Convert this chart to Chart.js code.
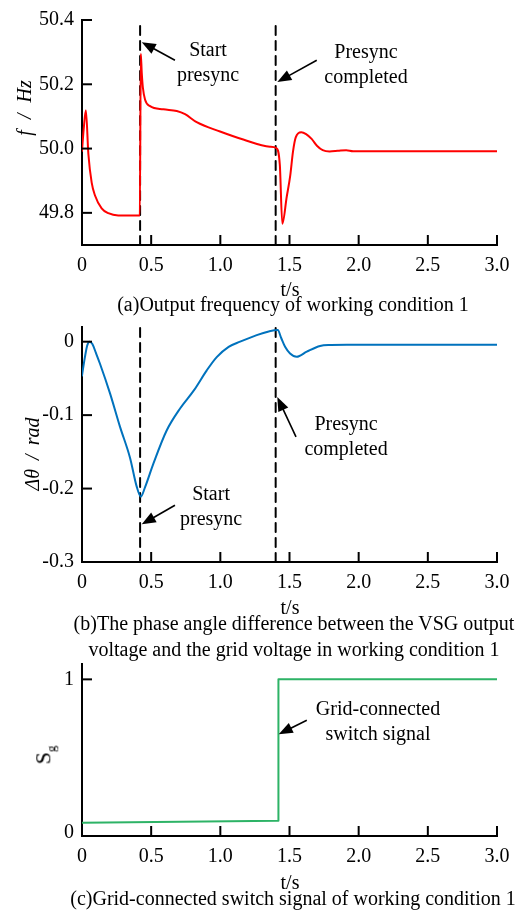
<!DOCTYPE html>
<html>
<head>
<meta charset="utf-8">
<script src="https://cdn.jsdelivr.net/npm/chart.js@4.4.0/dist/chart.umd.min.js"></script>
<style>
  html, body { margin: 0; padding: 0; background: #fff; overflow: hidden; }
  #page { position: relative; width: 526px; height: 910px; font-family: "Liberation Serif", serif; color: #000; }
  canvas { position: absolute; left: 0; }
  .txt { position: absolute; font-size: 20px; line-height: 23px; white-space: nowrap; text-align: center; }
  .ytitle { position: absolute; font-size: 20px; white-space: nowrap; transform: translate(-50%, -50%) rotate(-90deg); }
</style>
</head>
<body>
<div id="page">
  <canvas id="freqChart" width="526" height="300" style="top:0px"></canvas>
  <canvas id="phaseChart" width="526" height="340" style="top:300px"></canvas>
  <canvas id="switchChart" width="526" height="270" style="top:640px"></canvas>

  <div class="ytitle" style="left:24px;top:108px;font-style:italic;word-spacing:6px">f / Hz</div>
  <div class="ytitle" style="left:32px;top:454px;font-style:italic;word-spacing:4px">&Delta;&theta; / rad</div>
  <div class="ytitle" style="left:45px;top:755px;font-size:22px">S<sub style="font-size:13px">g</sub></div>

  <div class="txt" style="left:0;width:580px;top:278px">t/s</div>
  <div class="txt" style="left:0;width:586px;top:293px">(a)Output frequency of working condition 1</div>

  <div class="txt" style="left:0;width:580px;top:596px">t/s</div>
  <div class="txt" style="left:0;width:588px;top:610px;line-height:26px">(b)The phase angle difference between the VSG output<br>voltage and the grid voltage in working condition 1</div>

  <div class="txt" style="left:0;width:580px;top:871px">t/s</div>
  <div class="txt" style="left:0;width:586px;top:887px">(c)Grid-connected switch signal of working condition 1</div>
</div>

<script>
// time axis shared by all three plots
const timeTicks = [0, 0.5, 1.0, 1.5, 2.0, 2.5, 3.0];
const presyncStart = 0.42;
const presyncDone = 1.40;

// (a) output frequency, Hz
const freqTime = [0.000, 0.012, 0.028, 0.046, 0.070, 0.094, 0.142, 0.190, 0.262, 0.418,
  0.425, 0.432, 0.440, 0.456, 0.492, 0.588, 0.685, 0.745, 0.829, 0.998, 1.166, 1.359, 1.403,
  1.430, 1.448, 1.480, 1.505, 1.525, 1.545, 1.585, 1.620, 1.660, 1.700, 1.740, 1.790, 1.850,
  1.910, 1.960, 3.000];
const freqValue = [49.993, 50.060, 50.119, 49.983, 49.894, 49.854, 49.814, 49.799, 49.792, 49.792,
  50.295, 50.235, 50.190, 50.152, 50.132, 50.122, 50.117, 50.107, 50.082, 50.053, 50.028, 50.006, 50.002,
  49.950, 49.766, 49.850, 49.915, 49.990, 50.035, 50.051, 50.045, 50.030, 50.008, 49.995, 49.991, 49.993,
  49.995, 49.992, 49.992];
const freqTicks = [49.8, 50.0, 50.2, 50.4];

// (b) phase angle difference, rad
const phaseTime = [0.000, 0.022, 0.038, 0.055, 0.075, 0.100, 0.130, 0.202, 0.275, 0.347,
  0.395, 0.425, 0.456, 0.516, 0.612, 0.709, 0.810, 0.902, 0.974, 1.060, 1.143, 1.263, 1.350,
  1.415, 1.440, 1.468, 1.504, 1.552, 1.625, 1.721, 1.800, 1.914, 3.000];
const phaseValue = [-0.046, -0.020, -0.005, 0.000, -0.003, -0.015, -0.030, -0.070, -0.116, -0.158,
  -0.197, -0.211, -0.198, -0.166, -0.121, -0.091, -0.066, -0.039, -0.021, -0.007, 0.000, 0.009, 0.014,
  0.016, 0.005, -0.007, -0.016, -0.0205, -0.0136, -0.0059, -0.0045, -0.004, -0.004];
const phaseTicks = [-0.3, -0.2, -0.1, 0];

// (c) grid-connected switch signal
const switchTime = [0, 1.419, 1.420, 3.0];
const switchValue = [0.067, 0.080, 1, 1];
const switchTicks = [0, 1];

const serif = "'Liberation Serif', 'Times New Roman', serif";

function pts(xs, ys) {
  return xs.map((x, i) => ({ x: x, y: ys[i] }));
}

function vline(t, lo, hi) {
  return {
    data: [{ x: t, y: lo }, { x: t, y: hi }],
    borderColor: '#000', borderWidth: 2, borderDash: [9, 6],
    pointRadius: 0, tension: 0
  };
}

function fmt(v) {
  return v === 0 ? '0' : v.toFixed(1);
}

// inward tick marks, arrows and text notes
const figureMarks = {
  id: 'figureMarks',
  afterDraw(chart, args, opts) {
    const ctx = chart.ctx;
    const xs = chart.scales.x, ys = chart.scales.y;
    const area = chart.chartArea;
    ctx.save();
    ctx.strokeStyle = '#000';
    ctx.fillStyle = '#000';
    ctx.lineWidth = 2;
    xs.ticks.forEach(tk => {
      const px = xs.getPixelForValue(tk.value);
      ctx.beginPath();
      ctx.moveTo(px, area.bottom);
      ctx.lineTo(px, area.bottom - 10);
      ctx.stroke();
    });
    ys.ticks.forEach(tk => {
      if ((opts.skipY || []).includes(tk.value)) return;
      const py = ys.getPixelForValue(tk.value);
      ctx.beginPath();
      ctx.moveTo(area.left, py);
      ctx.lineTo(area.left + 10, py);
      ctx.stroke();
    });

    ctx.lineWidth = 1.6;
    (opts.arrows || []).forEach(a => {
      const x1 = xs.getPixelForValue(a.from[0]), y1 = ys.getPixelForValue(a.from[1]);
      const x2 = xs.getPixelForValue(a.to[0]), y2 = ys.getPixelForValue(a.to[1]);
      const ang = Math.atan2(y2 - y1, x2 - x1);
      const len = 14, half = 5.5;
      ctx.beginPath();
      ctx.moveTo(x1, y1);
      ctx.lineTo(x2 - Math.cos(ang) * len * 0.8, y2 - Math.sin(ang) * len * 0.8);
      ctx.stroke();
      ctx.beginPath();
      ctx.moveTo(x2, y2);
      ctx.lineTo(x2 - len * Math.cos(ang) + half * Math.sin(ang), y2 - len * Math.sin(ang) - half * Math.cos(ang));
      ctx.lineTo(x2 - len * Math.cos(ang) - half * Math.sin(ang), y2 - len * Math.sin(ang) + half * Math.cos(ang));
      ctx.closePath();
      ctx.fill();
    });

    ctx.font = '20px ' + serif;
    ctx.textAlign = 'center';
    ctx.textBaseline = 'middle';
    (opts.notes || []).forEach(n => {
      const cx = xs.getPixelForValue(n.at[0]), cy = ys.getPixelForValue(n.at[1]);
      const lh = 25;
      n.lines.forEach((s, i) => {
        ctx.fillText(s, cx, cy + (i - (n.lines.length - 1) / 2) * lh);
      });
    });
    ctx.restore();
  }
};

function makeChart(id, cfg) {
  const tickFont = { family: serif, size: 20 };
  return new Chart(document.getElementById(id), {
    type: 'line',
    data: { datasets: cfg.datasets },
    options: {
      responsive: false,
      animation: false,
      parsing: true,
      layout: { autoPadding: false, padding: { top: cfg.padTop, right: 29, bottom: 0, left: 0 } },
      plugins: {
        legend: { display: false },
        tooltip: { enabled: false },
        figureMarks: cfg.marks
      },
      elements: { line: { borderJoinStyle: 'round', borderCapStyle: 'round' } },
      scales: {
        x: {
          type: 'linear', min: 0, max: 3.0,
          afterFit: s => { s.height = cfg.xHeight; },
          afterBuildTicks: s => { s.ticks = timeTicks.map(v => ({ value: v })); },
          ticks: { callback: fmt, font: tickFont, color: '#000', padding: 9, autoSkip: false, maxRotation: 0 },
          grid: { display: false, drawTicks: false },
          border: { display: true, color: '#000', width: 2 }
        },
        y: {
          type: 'linear', min: cfg.yMin, max: cfg.yMax,
          afterFit: s => { s.width = 82; },
          afterBuildTicks: s => { s.ticks = cfg.yTicks.map(v => ({ value: v })); },
          ticks: { callback: cfg.yFmt || fmt, font: tickFont, color: '#000', padding: 8, autoSkip: false },
          grid: { display: false, drawTicks: false },
          border: { display: true, color: '#000', width: 2 }
        }
      }
    },
    plugins: [figureMarks]
  });
}

makeChart('freqChart', {
  padTop: 11, xHeight: 55, yMin: 49.7, yMax: 50.4, yTicks: freqTicks,
  datasets: [
    { data: pts(freqTime, freqValue), borderColor: '#ff0000', borderWidth: 2, pointRadius: 0, cubicInterpolationMode: 'monotone' },
    vline(presyncStart, 49.7, 50.4),
    vline(presyncDone, 49.7, 50.4)
  ],
  marks: {
    arrows: [
      { from: [0.672, 50.275], to: [0.432, 50.331] },
      { from: [1.697, 50.275], to: [1.412, 50.207] }
    ],
    notes: [
      { at: [0.911, 50.265], lines: ['Start', 'presync'] },
      { at: [2.053, 50.259], lines: ['Presync', 'completed'] }
    ]
  }
});

makeChart('phaseChart', {
  padTop: 27, xHeight: 78, yMin: -0.3, yMax: 0.02, yTicks: phaseTicks,
  datasets: [
    { data: pts(phaseTime, phaseValue), borderColor: '#0072bd', borderWidth: 2, pointRadius: 0, cubicInterpolationMode: 'monotone' },
    vline(presyncStart, -0.3, 0.02),
    vline(presyncDone, -0.3, 0.02)
  ],
  marks: {
    arrows: [
      { from: [1.547, -0.1296], to: [1.412, -0.0754] },
      { from: [0.672, -0.2228], to: [0.432, -0.2487] }
    ],
    notes: [
      { at: [1.909, -0.1307], lines: ['Presync', 'completed'] },
      { at: [0.933, -0.2248], lines: ['Start', 'presync'] }
    ]
  }
});

makeChart('switchChart', {
  padTop: 24, xHeight: 74, yMin: -0.02, yMax: 1.1, yTicks: switchTicks,
  yFmt: v => String(v),
  datasets: [
    { data: pts(switchTime, switchValue), borderColor: '#2db366', borderWidth: 2, pointRadius: 0, tension: 0 }
  ],
  marks: {
    skipY: [0],
    arrows: [
      { from: [1.625, 0.734], to: [1.422, 0.643] }
    ],
    notes: [
      { at: [2.14, 0.718], lines: ['Grid-connected', 'switch signal'] }
    ]
  }
});
</script>
</body>
</html>
